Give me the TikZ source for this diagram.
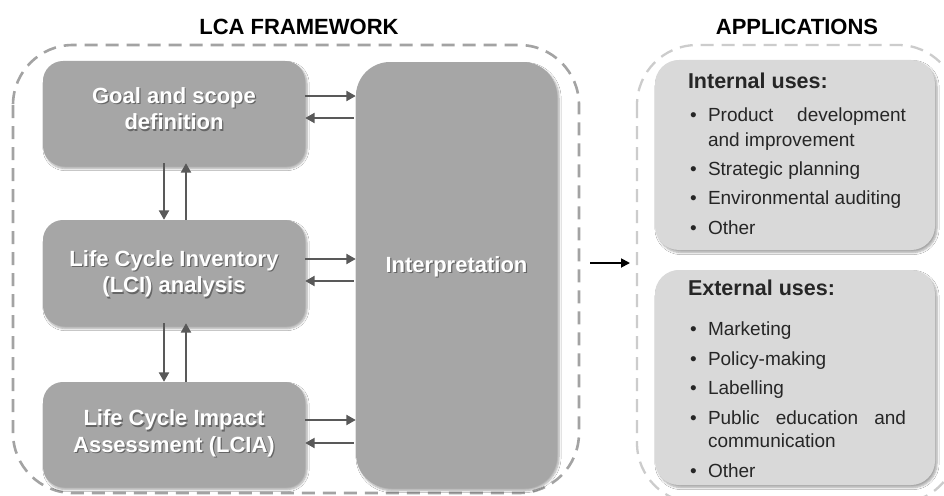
\documentclass[tikz,border=0pt]{standalone}
\usepackage{fontspec}
\setmainfont{Liberation Sans}
\usetikzlibrary{arrows.meta,shadows.blur}

\definecolor{stagegray}{HTML}{A6A6A6}
\definecolor{usegray}{HTML}{D9D9D9}
\definecolor{arrowgray}{HTML}{595959}
\definecolor{framegray}{HTML}{A3A3A3}
\definecolor{appframegray}{HTML}{CCCCCC}
\definecolor{inkgray}{HTML}{262626}
\definecolor{textshade}{HTML}{666666}

% white label with a soft dark offset copy behind it
\newcommand{\stagelabel}[1]{%
  \fontsize{22}{26.5}\selectfont\bfseries
  \leavevmode\rlap{\hspace{1.2pt}\raisebox{-1.2pt}{\color{textshade}\begin{tabular}{@{}c@{}}#1\end{tabular}}}%
  {\color{white}\begin{tabular}{@{}c@{}}#1\end{tabular}}}

% one bullet entry of a uses list
\newcommand{\useitem}[1]{\par\hangindent=20pt\hangafter=1\noindent\makebox[20pt][l]{\hspace{2pt}•}#1\par}

\tikzset{
  stagebox/.style={fill=stagegray, rounded corners=20pt, inner sep=0pt,
    blur shadow={shadow xshift=2pt, shadow yshift=-2.5pt, shadow blur steps=6, shadow opacity=35}},
  usebox/.style={fill=usegray, rounded corners=24pt, inner sep=0pt,
    blur shadow={shadow xshift=2pt, shadow yshift=-2.5pt, shadow blur steps=6, shadow opacity=35}},
  flow/.style={draw=arrowgray, line width=2.2pt, -{Triangle[length=9.5pt, width=10pt]}},
  frame/.style={draw=framegray, line width=2.6pt, dash pattern=on 13pt off 8pt, rounded corners=60pt},
  appframe/.style={draw=appframegray, line width=2.3pt, dash pattern=on 13pt off 8pt, rounded corners=60pt},
  title/.style={font=\fontsize{22}{26}\selectfont\bfseries, text=black},
  uselist/.style={anchor=north west, inner sep=0pt, text=inkgray, text width=250pt, align=justify}
}

\begin{document}
\begin{tikzpicture}[x=1pt, y=-1pt]
\useasboundingbox (0,0) rectangle (944,495);
\clip (0,0) rectangle (944,495);
\fill[white] (0,0) rectangle (944,495);

% titles
\node[title] (lcatitle) at (299,27) {LCA FRAMEWORK};
\node[title] (apptitle) at (797,27) {APPLICATIONS};

% dashed frames
\draw[frame] (13,45) rectangle (579,493);
\draw[appframe] (637,45) rectangle (958,503);

% LCA stages
\node[stagebox, minimum width=262pt, minimum height=105pt] (goal) at (174,113.5) {};
\node[stagebox, minimum width=262pt, minimum height=106pt] (lci) at (174,273) {};
\node[stagebox, minimum width=262pt, minimum height=105pt] (lcia) at (174,434.5) {};
\node[stagebox, rounded corners=34pt, minimum width=201pt, minimum height=426pt] (interp) at (456.5,275) {};

\node at ([yshift=1.5pt]goal.center) {\stagelabel{Goal and scope\\definition}};
\node at ([yshift=-2pt]lci.center) {\stagelabel{Life Cycle Inventory\\(LCI) analysis}};
\node at (lcia.center) {\stagelabel{Life Cycle Impact\\Assessment (LCIA)}};
\node at ([yshift=7pt]interp.center) {\stagelabel{Interpretation}};

% exchanges with the interpretation phase
\draw[flow] (goal.east |- 0,96) -- (interp.west |- 0,96);
\draw[flow] ([xshift=-2pt]interp.west |- 0,118) -- (goal.east |- 0,118);
\draw[flow] (lci.east |- 0,259) -- (interp.west |- 0,259);
\draw[flow] ([xshift=-2pt]interp.west |- 0,281) -- (lci.east |- 0,281);
\draw[flow] (lcia.east |- 0,420) -- (interp.west |- 0,420);
\draw[flow] ([xshift=-2pt]interp.west |- 0,443) -- (lcia.east |- 0,443);

% exchanges between consecutive stages
\draw[flow] ([yshift=3pt]goal.south -| 164,0) -- (lci.north -| 164,0);
\draw[flow] (lci.north -| 186,0) -- ([yshift=3pt]goal.south -| 186,0);
\draw[flow] ([yshift=3pt]lci.south -| 164,0) -- (lcia.north -| 164,0);
\draw[flow] (lcia.north -| 186,0) -- ([yshift=3pt]lci.south -| 186,0);

% framework feeds the applications
\coordinate (fromframe) at (590,263);
\coordinate (toapps) at (630,263);
\draw[line width=1.8pt, -{Triangle[length=9pt, width=9pt]}] (fromframe) -- (toapps);

% applications
\node[usebox, minimum width=280pt, minimum height=190pt] (internal) at (795,155) {};
\node[usebox, minimum width=280pt, minimum height=215pt] (external) at (795,377.5) {};

\node[uselist] (internaltext) at ([xshift=33pt, yshift=-13pt]internal.north west) {%
  \fontsize{19}{25}\selectfont
  {\fontsize{21.5}{26}\selectfont\bfseries Internal uses:\par}\vspace{8pt}%
  \hsize=218pt
  \useitem{Product development and improvement}\vspace{4pt}%
  \useitem{Strategic planning}\vspace{4pt}%
  \useitem{Environmental auditing}\vspace{4.5pt}%
  \useitem{Other}};

\node[uselist] (externaltext) at ([xshift=33pt, yshift=-10pt]external.north west) {%
  \fontsize{19}{23}\selectfont
  {\fontsize{21.5}{26}\selectfont\bfseries External uses:\par}\vspace{17pt}%
  \hsize=218pt
  \useitem{Marketing}\vspace{6.5pt}%
  \useitem{Policy-making}\vspace{6.5pt}%
  \useitem{Labelling}\vspace{6.5pt}%
  \useitem{Public education and communication}\vspace{7pt}%
  \useitem{Other}};
\end{tikzpicture}
\end{document}
